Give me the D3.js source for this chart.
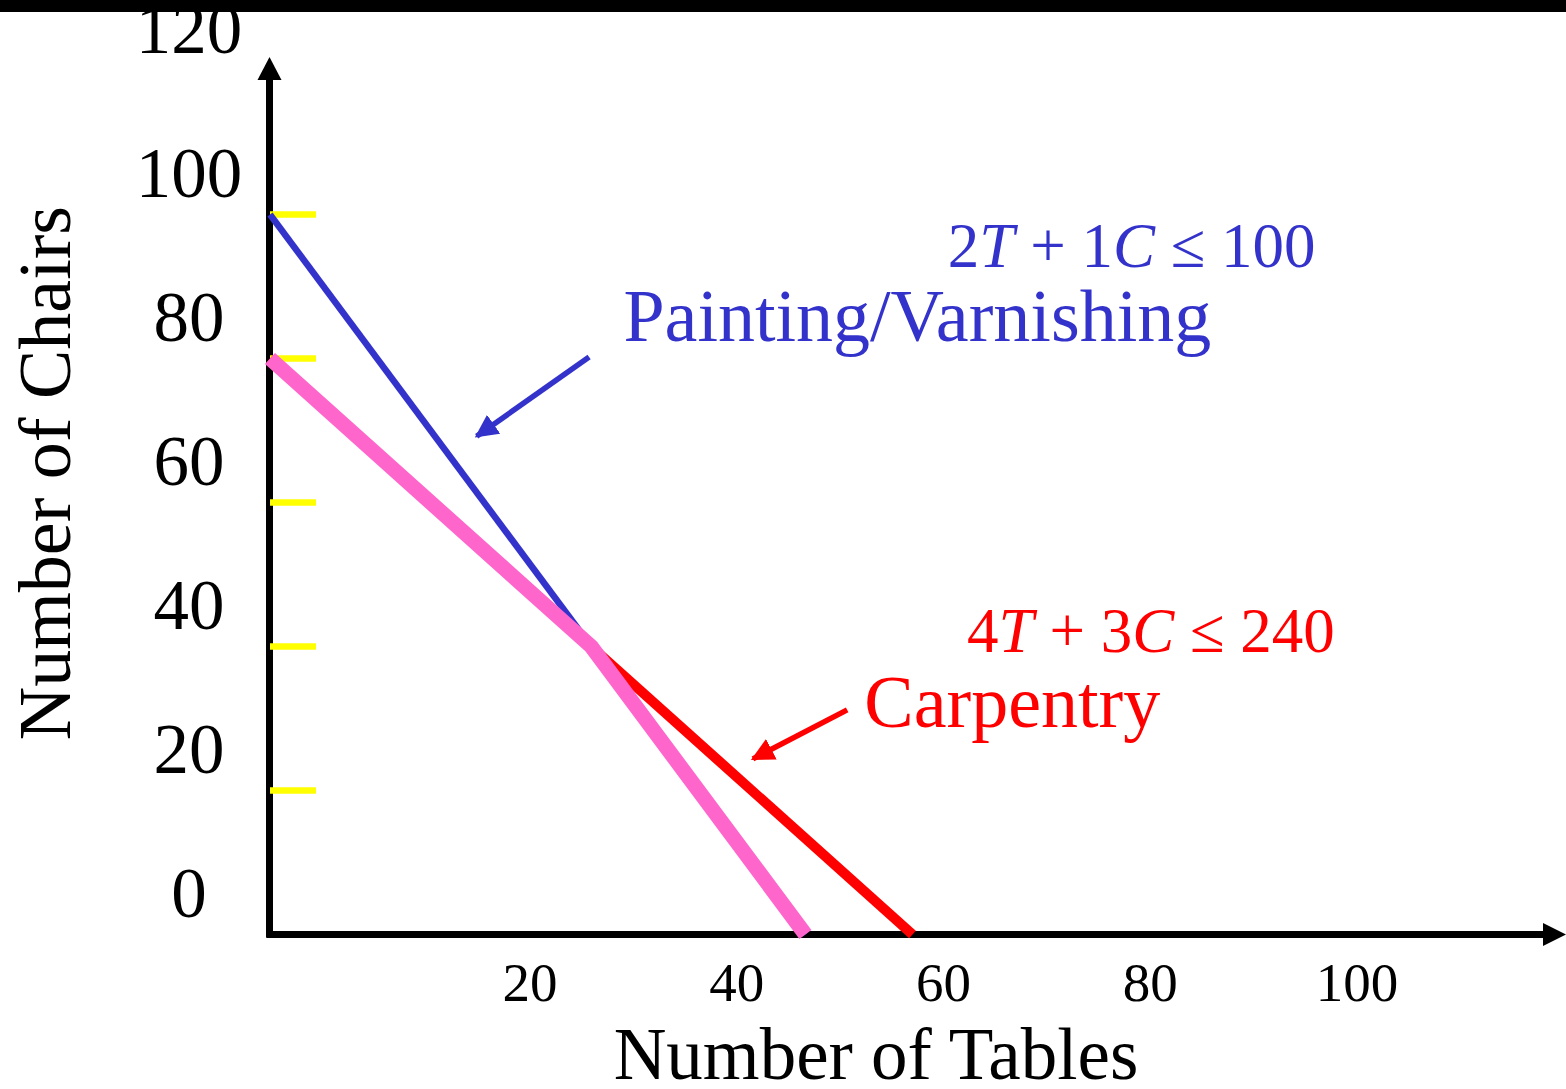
<!DOCTYPE html>
<html>
<head>
<meta charset="utf-8">
<script src="https://cdn.jsdelivr.net/npm/d3@7/dist/d3.min.js"></script>
<style>
  html, body { margin: 0; padding: 0; background: #fff; }
  svg { display: block; }
  text { font-family: "Liberation Serif", "Times New Roman", serif; }
</style>
</head>
<body>
<svg id="chart" width="1566" height="1089"></svg>
<script>
// Constraint lines: each runs from its chair intercept (T = 0) to its table intercept (C = 0)
const constraintNames = ["Painting/Varnishing", "Carpentry"];
const constraintEquations = [["2", "T", " + 1", "C", " \u2264 100"], ["4", "T", " + 3", "C", " \u2264 240"]];
const tableIntercepts = [50, 60];
const chairIntercepts = [100, 80];
const constraintColors = ["#3333cc", "#ff0000"];

// Corner points of the feasible region boundary
const feasibleTables = [0, 30, 50];
const feasibleChairs = [80, 40, 0];

// Axis labels
const yTickLabels = [0, 20, 40, 60, 80, 100, 120];
const yMarkValues = [20, 40, 60, 80, 100];
const xTickLabels = [20, 40, 60, 80, 100];

// Annotation anchors in data units (tables, chairs)
const labelAnchorT = [33, 55.5];
const labelAnchorC = [82.4, 28.8];
const equationAnchorT = [63.3, 65.1];
const equationAnchorC = [92.7, 39.2];
const arrowTailT = [29.8, 53.9];
const arrowTailC = [80.2, 31.2];
const arrowTipT = [19.3, 45.1];
const arrowTipC = [69.2, 24.4];

const svg = d3.select("#chart");
const W = 1566;

const x = d3.scaleLinear().domain([0, 120]).range([270, 1555]);
const y = d3.scaleLinear().domain([0, 100]).range([934.5, 214.5]);
// tick numbers along the table axis are spaced on their own
const xLabel = d3.scaleLinear().domain([20, 100]).range([530, 1357]);

const defs = svg.append("defs");
constraintColors.forEach((c, i) => {
  defs.append("marker")
    .attr("id", "head" + i)
    .attr("viewBox", "0 0 10 10")
    .attr("refX", 9).attr("refY", 5)
    .attr("markerWidth", 4.2).attr("markerHeight", 4.2)
    .attr("markerUnits", "strokeWidth")
    .attr("orient", "auto")
    .append("path").attr("d", "M0,0 L10,5 L0,10 z").attr("fill", c);
});

// Axes
const axisG = svg.append("g");
const x0 = x(0), yBase = y(0);
axisG.append("line")
  .attr("x1", x0 - 3.5).attr("x2", 1543)
  .attr("y1", yBase).attr("y2", yBase)
  .attr("stroke", "#000").attr("stroke-width", 7);
axisG.append("path")
  .attr("d", `M1543,${yBase - 11.5} L1566,${yBase} L1543,${yBase + 11.5} Z`)
  .attr("fill", "#000");
axisG.append("line")
  .attr("x1", x0 - 0.5).attr("x2", x0 - 0.5)
  .attr("y1", yBase + 3).attr("y2", 79)
  .attr("stroke", "#000").attr("stroke-width", 7);
axisG.append("path")
  .attr("d", `M${x0 - 12.5},80 L${x0 - 0.5},57 L${x0 + 11.5},80 Z`)
  .attr("fill", "#000");

// Yellow marks on the chairs axis
axisG.selectAll("line.mark").data(yMarkValues).join("line")
  .attr("class", "mark")
  .attr("x1", x0).attr("x2", x0 + 46)
  .attr("y1", d => y(d)).attr("y2", d => y(d))
  .attr("stroke", "#ffff00").attr("stroke-width", 6.5);

// Tick labels
svg.append("g").selectAll("text").data(yTickLabels).join("text")
  .attr("x", 189).attr("y", d => y(d) - 17.5)
  .attr("text-anchor", "middle")
  .attr("font-size", 71).attr("fill", "#000")
  .text(d => d);
svg.append("g").selectAll("text").data(xTickLabels).join("text")
  .attr("x", d => xLabel(d)).attr("y", 1001)
  .attr("text-anchor", "middle")
  .attr("font-size", 55).attr("fill", "#000")
  .text(d => d);

// Axis titles
svg.append("text")
  .attr("x", 876).attr("y", 1079)
  .attr("text-anchor", "middle").attr("font-size", 73).attr("fill", "#000")
  .text("Number of Tables");
svg.append("text")
  .attr("transform", "translate(70,473) rotate(-90)")
  .attr("text-anchor", "middle").attr("font-size", 74).attr("fill", "#000")
  .text("Number of Chairs");

// Constraint lines (blue first, red on top)
const lineGen = d3.line().x(d => x(d[0])).y(d => y(d[1]));
const strokeW = [6.5, 10];
[0, 1].forEach(i => {
  svg.append("path")
    .datum([[0, chairIntercepts[i]], [tableIntercepts[i], 0]])
    .attr("d", lineGen)
    .attr("fill", "none")
    .attr("stroke", constraintColors[i])
    .attr("stroke-width", strokeW[i]);
});

// Feasible region boundary
svg.append("path")
  .datum(d3.zip(feasibleTables, feasibleChairs))
  .attr("d", lineGen)
  .attr("fill", "none")
  .attr("stroke", "#ff66cc")
  .attr("stroke-width", 15)
  .attr("stroke-linejoin", "round");

// Labels, equations and pointer arrows
[0, 1].forEach(i => {
  const c = constraintColors[i];
  svg.append("text")
    .attr("x", x(labelAnchorT[i])).attr("y", y(labelAnchorC[i]))
    .attr("font-size", 74).attr("fill", c)
    .text(constraintNames[i]);
  const eq = svg.append("text")
    .attr("x", x(equationAnchorT[i])).attr("y", y(equationAnchorC[i]))
    .attr("font-size", 63).attr("fill", c)
    .attr("xml:space", "preserve");
  constraintEquations[i].forEach((part, k) => {
    eq.append("tspan")
      .attr("font-style", k % 2 === 1 ? "italic" : "normal")
      .text(part);
  });
  svg.append("line")
    .attr("x1", x(arrowTailT[i])).attr("y1", y(arrowTailC[i]))
    .attr("x2", x(arrowTipT[i])).attr("y2", y(arrowTipC[i]))
    .attr("stroke", c).attr("stroke-width", 5.5)
    .attr("marker-end", `url(#head${i})`);
});

// Slide header band
svg.append("rect").attr("x", 0).attr("y", 0).attr("width", W).attr("height", 12).attr("fill", "#000");
</script>
</body>
</html>
